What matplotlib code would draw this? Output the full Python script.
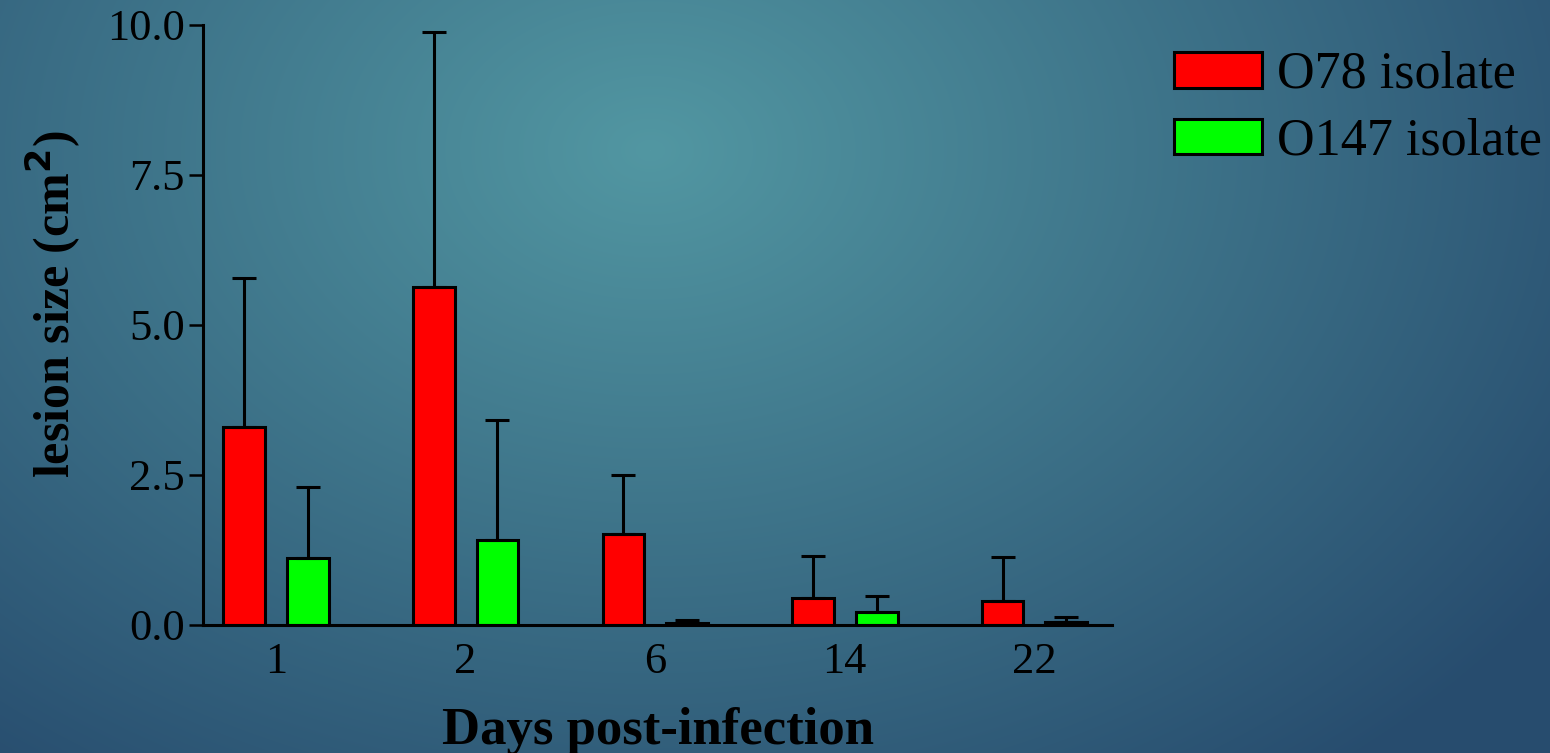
import numpy as np
import matplotlib.pyplot as plt

plt.rcParams['font.family'] = ['Liberation Serif', 'DejaVu Serif']

# Data
days = ['1', '2', '6', '14', '22']
o78_mean = [3.30, 5.63, 1.52, 0.45, 0.40]
o78_err = [2.48, 4.25, 0.98, 0.70, 0.73]
o147_mean = [1.12, 1.42, 0.03, 0.22, 0.05]
o147_err = [1.18, 2.00, 0.05, 0.26, 0.08]

fig = plt.figure(figsize=(15.5, 7.53), dpi=100)

# radial gradient background
bg = fig.add_axes([0, 0, 1, 1], zorder=-10)
yy, xx = np.mgrid[0:753, 0:1550]
r = np.sqrt(((xx - 650) / 1100.0) ** 2 + ((yy - 150) / 800.0) ** 2)
r = np.clip(r, 0, 1)
c_in = np.array([0x52, 0x97, 0xa2]) / 255.0
c_out = np.array([0x27, 0x4c, 0x6e]) / 255.0
img = c_in[None, None, :] * (1 - r[..., None]) + c_out[None, None, :] * r[..., None]
bg.imshow(img, aspect='auto', interpolation='bilinear')
bg.axis('off')

ax = fig.add_axes([0.131, 0.170, 0.5865, 0.797])
ax.patch.set_alpha(0)

x = np.arange(len(days))
w = 0.22
off = 0.168
lw = 2.2
err_kw = dict(elinewidth=lw, capthick=lw, capsize=8.5, ecolor='black')
ax.bar(x - off, o78_mean, w, yerr=[np.zeros(len(days)), o78_err], color='#ff0000',
       edgecolor='black', linewidth=lw, error_kw=err_kw, label='O78 isolate')
ax.bar(x + off, o147_mean, w, yerr=[np.zeros(len(days)), o147_err], color='#00ff00',
       edgecolor='black', linewidth=lw, error_kw=err_kw, label='O147 isolate')

ax.set_xlim(-0.385, 4.41)
ax.set_ylim(0, 10)
ax.set_yticks([0, 2.5, 5.0, 7.5, 10.0])
ax.set_yticklabels(['0.0', '2.5', '5.0', '7.5', '10.0'])
ax.set_xticks(x)
ax.set_xticklabels(days)
ax.tick_params(axis='y', length=10, width=1.8, labelsize=32, pad=3)
ax.tick_params(axis='x', length=0, labelsize=32, pad=12)
for s in ['top', 'right']:
    ax.spines[s].set_visible(False)
for s in ['left', 'bottom']:
    ax.spines[s].set_linewidth(lw)

ax.set_xlabel('Days post-infection', fontsize=38, fontweight='bold', labelpad=18)
ax.set_ylabel('lesion size (cm$^\\mathbf{2}$)', fontsize=36, fontweight='bold')
ax.yaxis.set_label_coords(-0.132, 0.535)

fig.legend(loc='upper left', bbox_to_anchor=(0.744, 0.96), frameon=False,
           fontsize=37.5, handlelength=1.68, handleheight=0.68, handletextpad=0.3,
           labelspacing=0.36, borderaxespad=0)

plt.savefig('out.png', dpi=100)
